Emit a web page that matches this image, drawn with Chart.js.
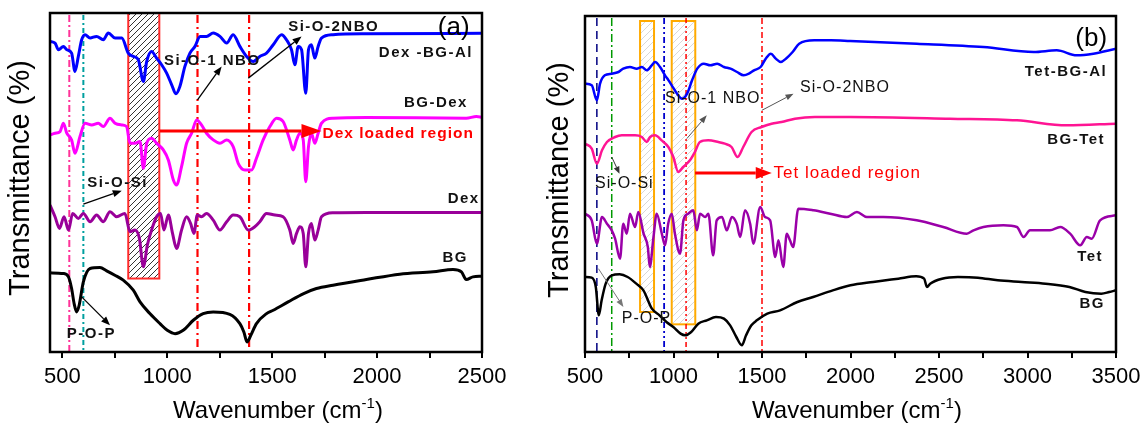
<!DOCTYPE html>
<html><head><meta charset="utf-8">
<script src="https://cdn.jsdelivr.net/npm/chart.js@4.4.1/dist/chart.umd.min.js"></script>
<style>
html,body{margin:0;padding:0;background:#fff;}
#wrap{position:relative;width:1143px;height:425px;overflow:hidden;background:#fff;}
#ca{position:absolute;left:0;top:0;}
#cb{position:absolute;left:520px;top:0;}
</style></head><body>
<div id="wrap"><canvas id="ca" width="520" height="425"></canvas><canvas id="cb" width="623" height="425"></canvas></div>
<script>
// ---------- Panel (a) data ----------
const wnA_BG = [441,505,529,544,556,568,580,600,632,679,711,750,790,838,870,917,965,1000,1037,1076,1124,1171,1219,1298,1346,1365,1380,1398,1425,1473,1505,1576,1650,1711,1790,1949,2108,2267,2362,2402,2425,2457,2500];
const tA_BG  = [23.7,23.5,22.5,19,14.5,12,14,21,25,25.3,24.3,23,21.5,18.5,15,11.5,8.5,6.5,5.5,6.5,9.5,11.5,12,11.3,8.5,6,3,5,8.5,11.5,12.5,15,17.5,19,20,21.7,23.3,24,24.7,24,21.7,22.5,22.7];

const wnA_Dex = [441,465,486,508,529,549,576,600,632,663,695,727,759,798,822,846,867,886,905,925,949,968,984,1005,1025,1044,1068,1092,1111,1127,1143,1163,1187,1219,1251,1283,1314,1346,1386,1417,1441,1473,1513,1552,1584,1600,1616,1632,1648,1660,1673,1687,1703,1719,1735,1790,1949,2500];
const tA_Dex  = [44,40.5,37,40.5,36.5,41.5,40,41.5,39,41,39,42,40.5,41.5,36,36.5,34,25.5,32,36.5,40.5,41.5,36.5,41,35.5,31,36.5,40.5,38.5,35.5,41,40.5,41.5,39.5,36.5,39,41,40.5,36.5,37.5,39,41.5,41,40.5,36.5,32.5,35.5,37.5,35.5,25.5,35.5,38.5,33.5,36.5,40.5,41.7,41.8,41.8];

const wnA_BGDex = [441,465,489,505,521,544,560,584,608,640,671,695,727,751,783,806,822,846,870,886,902,925,949,981,1005,1029,1044,1068,1092,1116,1140,1163,1187,1219,1251,1283,1314,1338,1370,1402,1425,1457,1489,1521,1552,1584,1600,1616,1632,1648,1660,1673,1687,1703,1719,1735,1790,1949,2425,2473,2500];
const tA_BGDex  = [65,65.5,66,68.5,65.5,63.5,59.5,64.5,68.5,68,68.5,67.5,70,68.5,68,67.5,62.5,62.5,63,55,62.5,64,62.5,60.5,57.5,51.5,50,55.5,62.5,65.5,69.5,68,65.5,63.5,62.5,63.5,61.5,56.5,54.5,54.5,58,63.5,67.5,70,69,63.5,60.5,63.5,65.5,63.5,51,61.5,65.5,62.5,65.5,68.5,70,70.2,70,70.5,70.3];

const wnA_DexAl = [441,465,481,505,521,544,560,576,592,608,632,663,695,719,751,783,814,838,862,886,902,925,949,973,997,1021,1041,1060,1084,1108,1132,1156,1187,1219,1251,1283,1314,1346,1378,1410,1441,1473,1505,1545,1568,1592,1608,1624,1640,1660,1673,1687,1703,1719,1735,1790,1949,2500];
const tA_DexAl  = [93,92.5,90.5,91.5,90.5,89.5,84,88.5,93.5,95,94,94.5,93.5,95.5,94,94,89.5,88.5,87.5,81,87,90,88,86,83.5,80,77.3,79.5,85.5,89.5,91.5,94.5,94.5,95.5,94.5,92.5,95,91.5,88.5,87,88.5,89.5,92,95,93.5,90.5,86,91.5,90.5,77.5,90.5,92,88,91.5,94,95,95.3,95.4];

// ---------- Panel (b) data ----------
const wnB_BG = [500,538,561,578,594,617,651,696,741,790,830,878,921,960,999,1040,1066,1100,1140,1188,1240,1285,1320,1355,1386,1410,1440,1471,1530,1602,1700,1789,1900,2000,2128,2270,2371,2416,2432,2450,2517,2607,2720,2832,2967,3102,3237,3327,3417,3462,3500];
const tB_BG  = [22.5,22.3,19.5,11,15.5,20.5,23,23.3,22.5,20.5,18.5,13,11,9,7.5,5.5,5,6,8.5,9.5,10.5,10,8,4.5,2,5,8,9.5,11.5,12.5,15,16.5,18.5,20,21,22,22.7,22,19.5,20.5,22,22.5,22.3,21.5,21,20.5,19.5,18,17.5,18,18.5];

const wnB_Tet = [500,538,567,596,624,651,670,698,716,736,754,783,801,831,855,866,887,905,934,952,970,990,1008,1037,1056,1083,1112,1132,1150,1179,1197,1224,1244,1274,1301,1330,1357,1377,1404,1433,1451,1490,1517,1546,1575,1593,1620,1640,1658,1676,1705,1791,1885,1980,2036,2092,2185,2374,2524,2657,2695,2751,2864,2940,2978,3014,3127,3185,3241,3298,3335,3363,3410,3500];
const tB_Tet  = [41.5,39.5,32.5,40.5,38.5,36.5,34,28,38.5,35.5,41.5,37.5,42,35.5,31.5,25.5,34.5,41.5,35.5,32,38.5,41.5,35.5,29.5,39.5,41.5,42.5,36.5,41.5,40.5,41.5,29,39.5,40.5,36.5,40.5,38.5,34.5,42.5,38.5,32.5,43.5,40.5,39.5,28.5,33.5,25.5,35.5,33.5,31.5,43,42.5,41.5,40.5,42,40.5,40.5,39.5,37.5,35.5,36.5,37.5,38,37.5,34.5,36.5,36.5,37.5,35.5,32,34.5,34,39.5,41];

const wnB_BGTet = [500,538,567,596,624,670,708,745,783,821,849,868,896,933,971,999,1027,1055,1093,1121,1149,1196,1253,1290,1328,1362,1394,1441,1497,1554,1610,1686,1799,1998,2561,2940,3222,3500];
const tB_BGTet  = [62.5,61,56.5,60.5,63,64.5,65,65,65,64.5,63,64.5,65,63.5,61.5,58.5,54,55.5,57.5,60,63,63.5,63,62.5,61.5,58.5,61.5,66,67.5,68.5,69,70,70.5,70.5,70,69.5,68,68.5];

const wnB_TetAl = [500,538,567,585,612,651,689,716,754,792,821,849,877,896,924,952,972,990,1020,1049,1077,1105,1134,1171,1208,1247,1285,1322,1359,1397,1426,1455,1492,1521,1550,1578,1606,1635,1673,1710,1795,1890,1998,2374,2751,3035,3165,3278,3372,3500];
const tB_TetAl  = [80.5,80,75.5,80.5,83,83.5,84,85,85.5,85,85.5,84.5,86,87,85.5,83,81.5,80,77.5,76,77.5,81.5,85,86.5,86,86.5,85.5,85,84,83,83.5,84.5,85.5,88,89.5,88,87,88,90,92.5,93.5,93.5,93.3,92.5,91.5,90,90.5,89,89.5,91];

// tick positions (every 250) and labelled ticks
const tickPosA = [500,750,1000,1250,1500,1750,2000,2250,2500];
const tickPosB = [500,750,1000,1250,1500,1750,2000,2250,2500,2750,3000,3250,3500];
const ticksA = [500,1000,1500,2000,2500];
const ticksB = [500,1000,1500,2000,2500,3000,3500];

const FONT = "'Liberation Sans', Arial, Helvetica, sans-serif";
Chart.defaults.font.family = FONT;

function pts(xs, ys){ return xs.map((x,i)=>({x:x, y:ys[i]})); }
function ds(label, xs, ys, color, w){
  return {label, data: pts(xs, ys), borderColor: color, backgroundColor: color, borderWidth: w,
          pointRadius: 0, cubicInterpolationMode: 'monotone', fill: false};
}

function hatchPattern(ctx, color, gap, lw){
  const c = document.createElement('canvas'); c.width = gap; c.height = gap;
  const g = c.getContext('2d'); g.strokeStyle = color; g.lineWidth = lw;
  g.beginPath();
  g.moveTo(0, gap); g.lineTo(gap, 0);
  g.moveTo(-gap/2, gap/2); g.lineTo(gap/2, -gap/2);
  g.moveTo(gap/2, gap*1.5); g.lineTo(gap*1.5, gap/2);
  g.stroke();
  return ctx.createPattern(c, 'repeat');
}

function arrow(ctx, x0, y0, x1, y1, color, lw, head, hw){
  ctx.strokeStyle = color; ctx.fillStyle = color; ctx.lineWidth = lw; ctx.setLineDash([]);
  const a = Math.atan2(y1-y0, x1-x0);
  const bx = x1 - head*Math.cos(a), by = y1 - head*Math.sin(a);
  ctx.beginPath(); ctx.moveTo(x0, y0); ctx.lineTo(bx, by); ctx.stroke();
  ctx.beginPath(); ctx.moveTo(x1, y1);
  ctx.lineTo(bx + hw*Math.sin(a), by - hw*Math.cos(a));
  ctx.lineTo(bx - hw*Math.sin(a), by + hw*Math.cos(a));
  ctx.closePath(); ctx.fill();
}

function annot(cfg){
  return {
    id: 'annot',
    beforeDatasetsDraw(chart){
      const {ctx, chartArea: ca} = chart; const X = chart.scales.x, Y = chart.scales.y;
      ctx.save();
      cfg.rects.forEach(r => {
        const x0 = X.getPixelForValue(r.x0), x1 = X.getPixelForValue(r.x1);
        const yt = Math.max(ca.top, Y.getPixelForValue(r.yTop)), yb = Y.getPixelForValue(r.yBot);
        ctx.fillStyle = hatchPattern(ctx, r.hatch, r.gap, r.hw);
        ctx.fillRect(x0, yt, x1-x0, yb-yt);
        ctx.setLineDash([]); ctx.strokeStyle = r.stroke; ctx.lineWidth = r.w;
        ctx.strokeRect(x0, yt, x1-x0, yb-yt);
      });
      cfg.vlines.forEach(v => {
        const px = X.getPixelForValue(v.x);
        ctx.beginPath(); ctx.setLineDash(v.dash); ctx.strokeStyle = v.color; ctx.lineWidth = v.w;
        ctx.moveTo(px, ca.top + 2); ctx.lineTo(px, ca.bottom); ctx.stroke();
      });
      ctx.restore();
    },
    afterDatasetsDraw(chart){
      const {ctx, chartArea: ca} = chart; const X = chart.scales.x, Y = chart.scales.y;
      ctx.save();
      cfg.arrows.forEach(a => arrow(ctx, X.getPixelForValue(a.x0), Y.getPixelForValue(a.y0),
        X.getPixelForValue(a.x1), Y.getPixelForValue(a.y1), a.color, a.w, a.head, a.hw));
      cfg.texts.forEach(t => {
        ctx.font = t.font + ' ' + FONT; ctx.fillStyle = t.color || '#111';
        ctx.textAlign = t.align || 'left'; ctx.textBaseline = 'middle';
        ctx.letterSpacing = (t.sp === undefined ? 1.5 : t.sp) + 'px';
        ctx.fillText(t.t, X.getPixelForValue(t.x), Y.getPixelForValue(t.y));
      });
      ctx.letterSpacing = '0px';
      ctx.setLineDash([]); ctx.strokeStyle = '#000'; ctx.lineWidth = 2.5;
      ctx.strokeRect(ca.left, ca.top, ca.right - ca.left, ca.bottom - ca.top);
      // axis titles
      ctx.fillStyle = '#000'; ctx.textBaseline = 'middle'; ctx.textAlign = 'center';
      ctx.save();
      ctx.translate(cfg.yTitle[0], cfg.yTitle[1]); ctx.rotate(-Math.PI/2);
      ctx.font = '29px ' + FONT; ctx.fillText('Transmittance (%)', 0, 0);
      ctx.restore();
      const size = 24, main = 'Wavenumber (cm', sup = '-1', end = ')';
      ctx.textAlign = 'left'; ctx.textBaseline = 'alphabetic';
      ctx.font = size + 'px ' + FONT; const w1 = ctx.measureText(main).width, w3 = ctx.measureText(end).width;
      ctx.font = Math.round(size*0.62) + 'px ' + FONT; const w2 = ctx.measureText(sup).width;
      let x = cfg.xTitle[0] - (w1 + w2 + w3)/2; const by = cfg.xTitle[1] + size*0.36;
      ctx.font = size + 'px ' + FONT; ctx.fillText(main, x, by); x += w1;
      ctx.font = Math.round(size*0.62) + 'px ' + FONT; ctx.fillText(sup, x, by - size*0.42); x += w2;
      ctx.font = size + 'px ' + FONT; ctx.fillText(end, x, by);
      ctx.restore();
    }
  };
}

function makeChart(id, datasets, xmin, xmax, ymax, area, W, tickPos, tickVals, cfg){
  return new Chart(document.getElementById(id), {
    type: 'line',
    data: { datasets },
    options: {
      responsive: false, animation: false, devicePixelRatio: 1,
      layout: { padding: { top: area.top, right: W - area.right, left: 0, bottom: 0 } },
      plugins: { legend: { display: false }, tooltip: { enabled: false } },
      scales: {
        x: { type: 'linear', min: xmin, max: xmax,
             afterBuildTicks: s => { s.ticks = tickPos.map(v => ({value: v})); },
             ticks: { autoSkip: false, maxRotation: 0, minRotation: 0,
                      color: '#000', font: { family: FONT, size: 22 }, padding: 6,
                      callback: v => tickVals.includes(v) ? String(v) : '' },
             grid: { drawOnChartArea: false, drawTicks: true, tickLength: 6, color: '#000', lineWidth: 2 },
             border: { display: false },
             afterFit: s => { s.height = 425 - area.bottom; s.paddingLeft = 0; s.paddingRight = 0; } },
        y: { type: 'linear', min: 0, max: ymax,
             ticks: { display: false }, grid: { display: false }, border: { display: false },
             afterFit: s => { s.width = area.left; s.paddingTop = 0; s.paddingBottom = 0; } }
      }
    },
    plugins: [annot(cfg)]
  });
}

// ---------- Panel (a) ----------
const LB = 'bold 15px';
makeChart('ca', [
  ds('BG', wnA_BG, tA_BG, '#000000', 3),
  ds('Dex', wnA_Dex, tA_Dex, '#990099', 3),
  ds('BG-Dex', wnA_BGDex, tA_BGDex, '#ff00ff', 3),
  ds('Dex -BG-Al', wnA_DexAl, tA_DexAl, '#0000ff', 3)
], 441, 2500, 101.5, {left: 50, right: 482, top: 13, bottom: 352}, 520, tickPosA, ticksA, {
  rects: [{x0: 814, x1: 962, yTop: 101.5, yBot: 22, stroke: '#ff2a2a', w: 2, hatch: '#333333', gap: 6, hw: 1}],
  vlines: [
    {x: 533, color: '#ff3399', dash: [7,3,2,3], w: 2},
    {x: 600, color: '#009f9f', dash: [5,3,2,3], w: 2},
    {x: 1144, color: '#ff0000', dash: [8,4,2,4], w: 2.2},
    {x: 1390, color: '#ff0000', dash: [8,4,2,4], w: 2.2}
  ],
  arrows: [
    {x0: 1386, y0: 82, x1: 1640, y1: 94.5, color: '#000', w: 1.3, head: 9, hw: 3.5},
    {x0: 1144, y0: 75.5, x1: 1259, y1: 85.5, color: '#000', w: 1.3, head: 9, hw: 3.5},
    {x0: 600, y0: 44.3, x1: 783, y1: 48.3, color: '#000', w: 1.3, head: 9, hw: 3.5},
    {x0: 592, y0: 16.5, x1: 727, y1: 8, color: '#000', w: 1.3, head: 9, hw: 3.5},
    {x0: 965, y0: 66.2, x1: 1735, y1: 66.2, color: '#ff0000', w: 3, head: 20, hw: 7}
  ],
  texts: [
    {t: 'Si-O-2NBO', x: 1576, y: 97.5, font: LB},
    {t: 'Si-O-1 NBO', x: 984, y: 87.2, font: LB},
    {t: 'Si-O-Si', x: 619, y: 50.5, font: LB},
    {t: 'P-O-P', x: 521, y: 5.5, font: LB},
    {t: 'Dex -BG-Al', x: 2457, y: 89.5, font: LB, align: 'right'},
    {t: 'BG-Dex', x: 2433, y: 74.5, font: LB, align: 'right'},
    {t: 'Dex', x: 2489, y: 45.8, font: LB, align: 'right'},
    {t: 'BG', x: 2433, y: 28.3, font: LB, align: 'right'},
    {t: '(a)', x: 2441, y: 97, font: '26px', align: 'right', sp: 0, color: '#000'},
    {t: 'Dex loaded region', x: 1740, y: 65.5, font: 'bold 15.5px', color: '#ff0000', sp: 1}
  ],
  yTitle: [21, 178], xTitle: [278, 409]
});

// ---------- Panel (b) ----------
const LR = '16px';
makeChart('cb', [
  ds('BG', wnB_BG, tB_BG, '#000000', 2.5),
  ds('Tet', wnB_Tet, tB_Tet, '#9a00a8', 2.5),
  ds('BG-Tet', wnB_BGTet, tB_BGTet, '#ff1493', 2.5),
  ds('Tet-BG-Al', wnB_TetAl, tB_TetAl, '#0000ff', 2.5)
], 500, 3500, 100.8, {left: 65, right: 596, top: 16, bottom: 352}, 623, tickPosB, ticksB, {
  rects: [
    {x0: 811, x1: 890, yTop: 99.3, yBot: 12, stroke: '#ffaa00', w: 2, hatch: '#d8d8d8', gap: 7, hw: 1},
    {x0: 990, x1: 1123, yTop: 99.3, yBot: 8.3, stroke: '#ffaa00', w: 2, hatch: '#d8d8d8', gap: 7, hw: 1}
  ],
  vlines: [
    {x: 567, color: '#000080', dash: [8,5], w: 1.5},
    {x: 651, color: '#009900', dash: [8,3,2,3], w: 1.5},
    {x: 947, color: '#0000cc', dash: [6,3,2,3,2,3], w: 1.8},
    {x: 1071, color: '#ff0000', dash: [5,3,2,3,2,3], w: 1.5},
    {x: 1500, color: '#ff0000', dash: [6,3,2,3], w: 1.5}
  ],
  arrows: [
    {x0: 1122, y0: 53.7, x1: 1555, y1: 53.7, color: '#ff0000', w: 3, head: 16, hw: 6},
    {x0: 1499, y0: 72.5, x1: 1678, y1: 77.5, color: '#555', w: 1, head: 8, hw: 3},
    {x0: 1075, y0: 64, x1: 1188, y1: 71, color: '#555', w: 1, head: 8, hw: 3},
    {x0: 651, y0: 58.5, x1: 695, y1: 53.5, color: '#333', w: 1, head: 7, hw: 3},
    {x0: 576, y0: 25, x1: 717, y1: 13.5, color: '#777', w: 1, head: 8, hw: 3}
  ],
  texts: [
    {t: 'Tet loaded region', x: 1565, y: 53.7, font: '17px', color: '#ff0000', sp: 1},
    {t: 'Si-O-2NBO', x: 1715, y: 79.3, font: LR, sp: 1},
    {t: 'Si-O-1 NBO', x: 952, y: 76, font: LR, sp: 1},
    {t: 'Si-O-Si', x: 557, y: 50.5, font: LR, sp: 1},
    {t: 'P-O-P', x: 708, y: 10, font: LR, sp: 1},
    {t: 'Tet-BG-Al', x: 3450, y: 83.9, font: LB, align: 'right'},
    {t: 'BG-Tet', x: 3438, y: 63.5, font: LB, align: 'right'},
    {t: 'Tet', x: 3427, y: 28.4, font: LB, align: 'right'},
    {t: 'BG', x: 3438, y: 14.3, font: LB, align: 'right'},
    {t: '(b)', x: 3450, y: 94, font: '26px', align: 'right', sp: 0, color: '#000'}
  ],
  yTitle: [40, 180], xTitle: [337, 409]
});
</script>
</body></html>
